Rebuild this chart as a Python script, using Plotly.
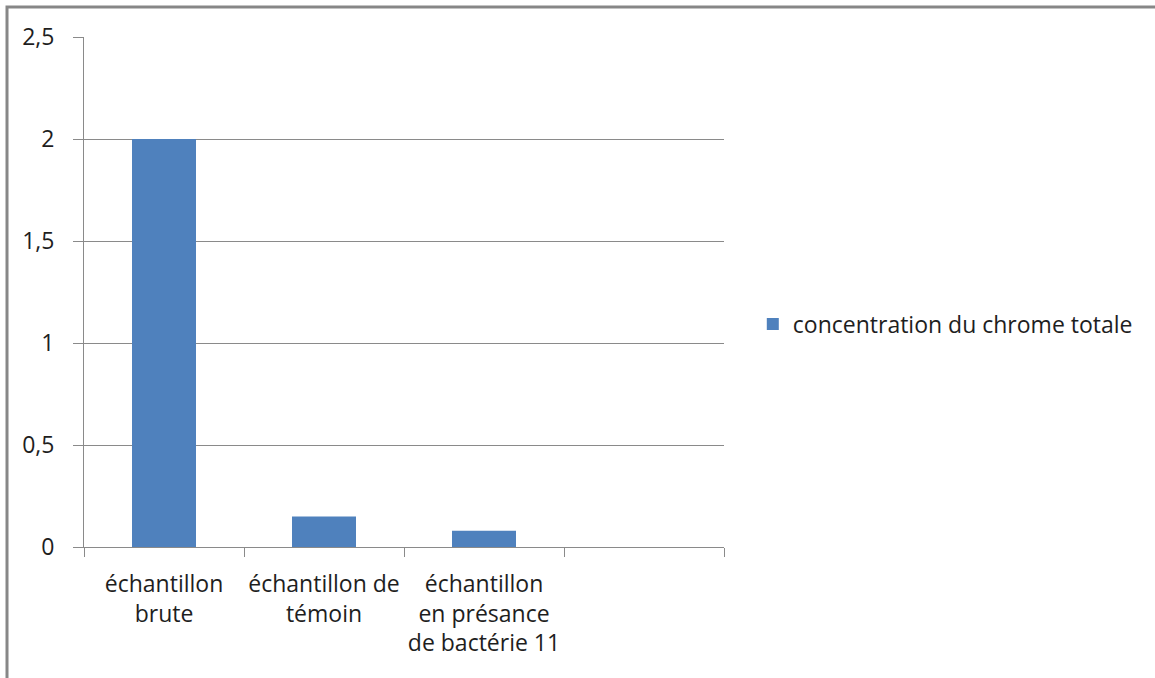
import plotly.graph_objects as go

# Chart data
categories = ["échantillon<br>brute", "échantillon de<br>témoin",
              "échantillon<br>en présance<br>de bactérie 11", " "]
values = [2.0, 0.15, 0.08, None]
series_name = "concentration du chrome totale"
y_ticks = [0, 0.5, 1, 1.5, 2, 2.5]
y_tick_labels = ["0", "0,5", "1", "1,5", "2", "2,5"]

FONT = "Open Sans"
GRID = "#8a8a8a"
BAR = "#4f81bd"
TEXT = "#1e1e1e"

fig = go.Figure()
fig.add_trace(go.Bar(
    x=categories,
    y=values,
    name=series_name,
    marker=dict(color=BAR, line=dict(width=0)),
    showlegend=True,
))

# Outer chart frame (clipped by the page on the right and bottom)
fig.add_shape(type="rect", xref="paper", yref="paper",
              x0=-0.1203, x1=1.7, y0=-0.3, y1=1.0588,
              line=dict(color="#878787", width=3), layer="below")

fig.update_layout(
    width=1155, height=678,
    margin=dict(l=84, r=431, t=37, b=131, autoexpand=False),
    paper_bgcolor="white", plot_bgcolor="white",
    font=dict(family=FONT, size=23, color=TEXT),
    bargap=0.6,
    showlegend=True,
    legend=dict(x=1.045, y=0.437, xanchor="left", yanchor="middle",
                font=dict(family=FONT, size=23, color=TEXT),
                itemwidth=30, bgcolor="rgba(0,0,0,0)"),
    xaxis=dict(
        type="category",
        categoryorder="array", categoryarray=categories,
        range=[-0.5, 3.5],
        tickson="boundaries",
        ticks="outside", ticklen=9, tickcolor=GRID, tickwidth=1,
        showline=True, linecolor=GRID, linewidth=1,
        showgrid=False, zeroline=False,
        tickangle=0, automargin=False,
        tickfont=dict(family=FONT, size=23, color=TEXT),
        ticklabelstandoff=16,
        fixedrange=True,
    ),
    yaxis=dict(
        range=[0, 2.5],
        tickvals=y_ticks, ticktext=y_tick_labels,
        ticks="outside", ticklen=10, tickcolor=GRID, tickwidth=1,
        showline=True, linecolor=GRID, linewidth=1,
        showgrid=True, gridcolor=GRID, gridwidth=1,
        zeroline=False, automargin=False,
        tickfont=dict(family=FONT, size=23, color=TEXT),
        ticklabelstandoff=14,
        fixedrange=True,
    ),
)

fig.write_html("out.html")
